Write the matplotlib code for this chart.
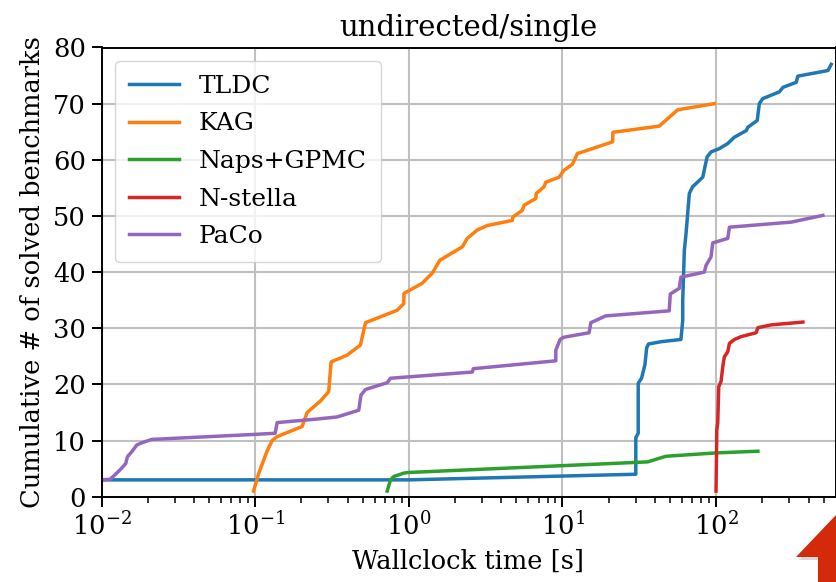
import matplotlib
matplotlib.use("Agg")
import matplotlib.pyplot as plt
from matplotlib.patches import Polygon

plt.rcParams['font.family'] = ['DejaVu Serif']

# ---- data (time [s], cumulative count) ----
tldc_t = [0.01, 1.0, 30.0, 30.0, 31.1, 31.1, 32.7, 34.4, 35.3, 36.3, 43.7, 59.0, 60.6, 60.6,
          62.1, 63.7, 66.9, 70.3, 81.8, 87.3, 92.6, 105, 119, 131, 157, 161, 185, 191, 201,
          258, 272, 332, 340, 534, 561]
tldc_y = [3, 3, 4, 10.5, 11.3, 20.2, 21.1, 23.5, 26.5, 27.2, 27.6, 28, 31.4, 35,
          43.9, 46.9, 54, 55.2, 56.9, 60.5, 61.4, 62, 62.9, 64, 65.2, 65.8, 67, 70, 70.9,
          72.1, 72.9, 73.8, 74.9, 75.9, 77]

kag_t = [0.0976, 0.105, 0.119, 0.129, 0.139, 0.202, 0.218, 0.265, 0.301, 0.312, 0.396, 0.484,
         0.523, 0.84, 0.927, 0.93, 1.22, 1.42, 1.59, 2.23, 2.40, 2.79, 3.24, 4.72, 4.75, 5.48,
         5.62, 6.70, 6.75, 7.59, 7.78, 9.5, 10.2, 11.6, 12.5, 21.2, 21.3, 42.6, 56.2, 97.3]
kag_y = [1, 4, 8, 10, 10.7, 12.5, 15, 17, 18.7, 24, 25.2, 27,
         31, 33.2, 34.4, 36.2, 38, 39.8, 42.1, 44.5, 46, 47.5, 48.3, 49.2, 49.8, 51,
         51.9, 53.1, 54, 55.2, 56, 56.9, 58.1, 59.2, 61.1, 63.2, 64.9, 66, 68.9, 70]

naps_t = [0.723, 0.760, 0.798, 0.93, 0.977, 35.8, 47.1, 99.8, 187]
naps_y = [1, 3, 3.6, 4.2, 4.3, 6.2, 7.2, 7.8, 8.1]

nstella_t = [99.8, 101, 102.4, 104, 107.6, 110.4, 113, 119, 122, 131.5, 145, 182, 187, 228, 367]
nstella_y = [1, 11.9, 13.1, 19.6, 20.5, 23.1, 24.9, 25.8, 27.3, 28, 28.5, 29.2, 30.1, 30.6, 31.1]

paco_t = [0.01003, 0.01136, 0.01225, 0.01354, 0.01438, 0.01473, 0.01573, 0.01696, 0.0183,
          0.0212, 0.1, 0.135, 0.139, 0.246, 0.341, 0.472, 0.488, 0.523, 0.723, 0.760, 1.19,
          2.59, 2.63, 9.04, 9.05, 9.65, 10.2, 14.9, 15.3, 19.1, 49.5, 50.3, 57.5, 59.0, 83.8,
          85.9, 92.6, 95.0, 119, 122, 308, 495]
paco_y = [3, 3.1, 3.9, 5.1, 5.9, 7.1, 8, 9.2, 9.6,
          10.2, 11.1, 11.3, 13.2, 13.8, 14.2, 15.4, 18.1, 19.1, 20.3, 21.1, 21.5,
          22.2, 22.8, 24.2, 26.1, 28, 28.4, 29.2, 31, 32.2, 33.1, 36.1, 37.1, 39.1, 40,
          41.2, 42.7, 45.2, 46, 48, 48.9, 50.1]

series_names = ["TLDC", "KAG", "Naps+GPMC", "N-stella", "PaCo"]
series = [(tldc_t, tldc_y), (kag_t, kag_y), (naps_t, naps_y), (nstella_t, nstella_y), (paco_t, paco_y)]
colors = ["#1f77b4", "#ff7f0e", "#2ca02c", "#d62728", "#9467bd"]

W, H = 836, 582
fig = plt.figure(figsize=(W / 100, H / 100), dpi=100)
ax = fig.add_axes([101.5 / W, 1 - 496.7 / H, (835.5 - 101.5) / W, (496.7 - 47.5) / H])

for name, (t, y), c in zip(series_names, series, colors):
    ax.plot(t, y, color=c, lw=2.5, label=name)

ax.set_xscale("log")
ax.set_xlim(0.01, 598)
ax.set_ylim(0, 80)
ax.set_yticks(range(0, 81, 10))
ax.grid(True, which="major", color="#c0c0c0", lw=1.5)
ax.tick_params(axis="both", which="major", labelsize=18.5, length=7, width=1.4, pad=4)
ax.tick_params(axis="x", which="minor", length=4, width=1.1)
for s in ax.spines.values():
    s.set_linewidth(1.4)

ax.set_title("undirected/single", fontsize=21, pad=8)
ax.set_xlabel("Wallclock time [s]", fontsize=18.5, labelpad=6)
ax.set_ylabel("Cumulative # of solved benchmarks", fontsize=18.5, labelpad=6)

leg = ax.legend(loc="upper left", fontsize=18, handlelength=2.0, borderpad=0.55,
                labelspacing=0.58, borderaxespad=0.55, handletextpad=0.8)
leg.get_frame().set_linewidth(1.0)

# red arrow overlay in the lower right corner (pixel coords, y from top)
def px(pts):
    return [(x, H - y) for x, y in pts]

shadow = Polygon(px([(838, 519), (799, 560), (821, 560), (821, 585), (838, 585)]),
                 closed=True, transform=None, facecolor="#00000026", edgecolor="none")
arrow = Polygon(px([(836, 515), (796, 557), (818, 557), (818, 582), (836, 582)]),
                closed=True, transform=None, facecolor="#d42a0a", edgecolor="none")
fig.patches.extend([shadow, arrow])

fig.savefig("out.png", dpi=100)
